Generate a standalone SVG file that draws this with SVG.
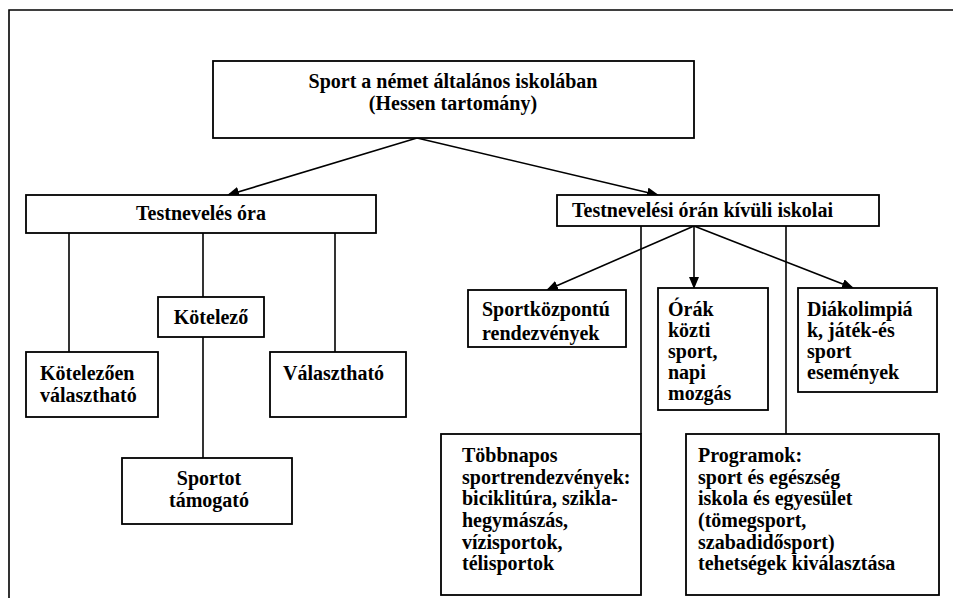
<svg xmlns="http://www.w3.org/2000/svg" width="953" height="598" viewBox="0 0 953 598">
<style>
.box{fill:#fff;stroke:#000;stroke-width:1.8}
.ln{fill:none;stroke:#000;stroke-width:1.6}
.t{font-family:"Liberation Serif","Times New Roman",serif;font-weight:bold;font-size:20px;fill:#000}
.c{text-anchor:middle}
</style>
<defs>
<marker id="ah" markerWidth="12" markerHeight="10" refX="11" refY="5" orient="auto" markerUnits="userSpaceOnUse">
<path d="M0,0 L12,5 L0,10 Z" fill="#000"/>
</marker>
</defs>
<rect width="953" height="598" fill="#fff"/>
<path class="ln" d="M9,598 V10 H953"/>
<g id="connectors">
<line class="ln" x1="417" y1="138" x2="228" y2="195" marker-end="url(#ah)"/>
<line class="ln" x1="417" y1="138" x2="658" y2="195" marker-end="url(#ah)"/>
<line class="ln" x1="69" y1="233" x2="69" y2="352"/>
<line class="ln" x1="203" y1="233" x2="203" y2="297"/>
<line class="ln" x1="203" y1="337" x2="203" y2="458"/>
<line class="ln" x1="335" y1="233" x2="335" y2="352"/>
<line class="ln" x1="694" y1="226" x2="547" y2="290" marker-end="url(#ah)"/>
<line class="ln" x1="694" y1="226" x2="694" y2="288" marker-end="url(#ah)"/>
<line class="ln" x1="694" y1="226" x2="853" y2="288" marker-end="url(#ah)"/>
<line class="ln" x1="641" y1="226" x2="641" y2="434"/>
<line class="ln" x1="786" y1="226" x2="786" y2="434"/>
</g>
<g id="root">
<rect class="box" x="213" y="61" width="481" height="77"/>
<text class="t c" x="453" y="88">Sport a német általános iskolában</text>
<text class="t c" x="453" y="110">(Hessen tartomány)</text>
</g>
<g id="testneveles-ora">
<rect class="box" x="26" y="195" width="350" height="38"/>
<text class="t c" x="201" y="220">Testnevelés óra</text>
</g>
<g id="kotelezoen-valaszthato">
<rect class="box" x="26" y="352" width="132" height="65"/>
<text class="t" x="40" y="380">Kötelezően</text>
<text class="t" x="40" y="402">választható</text>
</g>
<g id="kotelezo">
<rect class="box" x="158" y="297" width="106" height="40"/>
<text class="t c" x="211" y="324">Kötelező</text>
</g>
<g id="valaszthato">
<rect class="box" x="270" y="352" width="136" height="65"/>
<text class="t" x="283" y="380">Választható</text>
</g>
<g id="sportot-tamogato">
<rect class="box" x="122" y="458" width="170" height="66"/>
<text class="t c" x="209" y="485">Sportot</text>
<text class="t c" x="209" y="507">támogató</text>
</g>
<g id="kivuli">
<rect class="box" x="557" y="195" width="322" height="31"/>
<text class="t" x="572" y="217">Testnevelési órán kívüli iskolai</text>
</g>
<g id="sportkozpontu">
<rect class="box" x="468" y="290" width="158" height="57"/>
<text class="t" x="482" y="316">Sportközpontú</text>
<text class="t" x="482" y="340">rendezvények</text>
</g>
<g id="orak-kozti">
<rect class="box" x="658" y="288" width="110" height="122"/>
<text class="t" x="668" y="316">Órák</text>
<text class="t" x="668" y="337">közti</text>
<text class="t" x="668" y="358">sport,</text>
<text class="t" x="668" y="379">napi</text>
<text class="t" x="668" y="400">mozgás</text>
</g>
<g id="diakolimpia">
<rect class="box" x="798" y="288" width="139" height="104"/>
<text class="t" x="807" y="316">Diákolimpiá</text>
<text class="t" x="807" y="337">k, játék-és</text>
<text class="t" x="807" y="358">sport</text>
<text class="t" x="807" y="379">események</text>
</g>
<g id="tobbnapos">
<rect class="box" x="441" y="434" width="200" height="161"/>
<text class="t" x="462" y="462">Többnapos</text>
<text class="t" x="462" y="484">sportrendezvények:</text>
<text class="t" x="462" y="505">biciklitúra, szikla-</text>
<text class="t" x="462" y="527">hegymászás,</text>
<text class="t" x="462" y="549">vízisportok,</text>
<text class="t" x="462" y="570">télisportok</text>
</g>
<g id="programok">
<rect class="box" x="686" y="434" width="253" height="161"/>
<text class="t" x="698" y="462">Programok:</text>
<text class="t" x="698" y="484">sport és egészség</text>
<text class="t" x="698" y="505">iskola és egyesület</text>
<text class="t" x="698" y="527">(tömegsport,</text>
<text class="t" x="698" y="549">szabadidősport)</text>
<text class="t" x="698" y="570">tehetségek kiválasztása</text>
</g>
</svg>
